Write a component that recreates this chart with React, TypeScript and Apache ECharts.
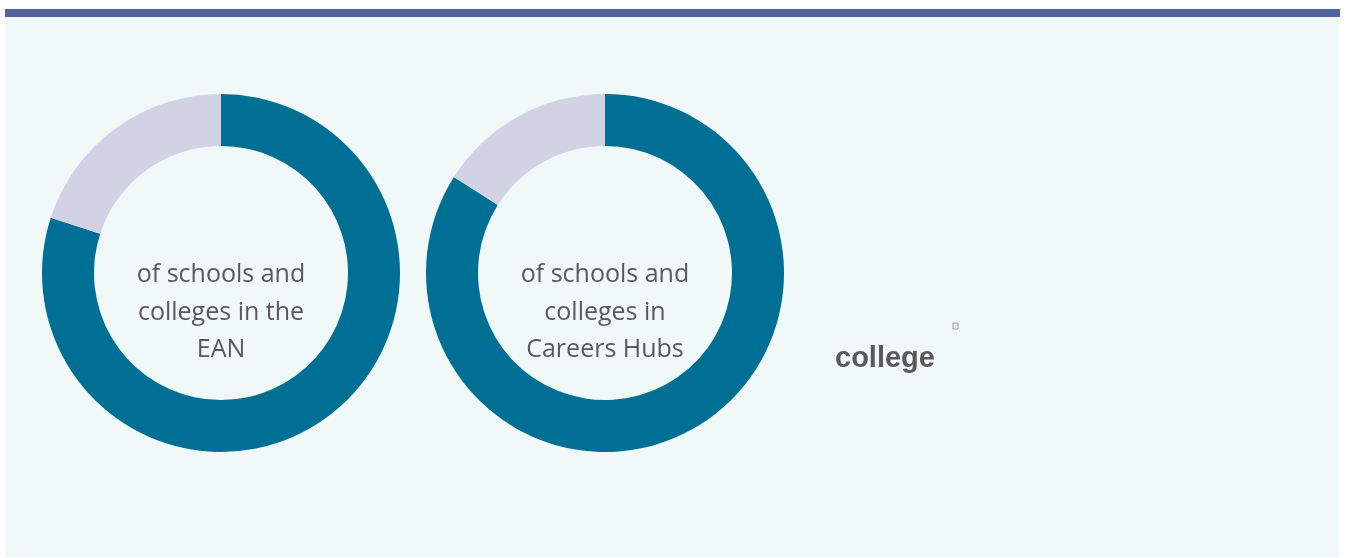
import React, { useEffect, useRef } from "react";
import * as echarts from "echarts";

const donutNames = ["EAN", "Careers Hubs"];
const coveredShare = [80, 84];
const remainingShare = [20, 16];
const centerLabels = [
  ["of schools and", "colleges in the", "EAN"],
  ["of schools and", "colleges in", "Careers Hubs"],
];
const sideWord = "college";

const DARK = "#006f94";
const LIGHT = "#d1d3e4";
const TEXT = "#595959";

export default function App() {
  const ref = useRef<HTMLDivElement>(null);
  useEffect(() => {
    if (!ref.current) return;
    const chart = echarts.init(ref.current, null, { renderer: "svg" });
    const centers = [
      [221, 273],
      [605, 273],
    ];
    const series: any[] = donutNames.map((name, i) => ({
      type: "pie",
      name,
      center: centers[i],
      radius: [127, 179],
      startAngle: 90,
      clockwise: true,
      silent: true,
      label: { show: false },
      labelLine: { show: false },
      data: [
        { value: coveredShare[i], name: "covered", itemStyle: { color: DARK } },
        { value: remainingShare[i], name: "remaining", itemStyle: { color: LIGHT } },
      ],
    }));
    const texts: any[] = [];
    centerLabels.forEach((lines, i) => {
      lines.forEach((line, j) => {
        texts.push({
          type: "text",
          x: centers[i][0],
          y: 272 + j * 37.5,
          z: 10,
          style: {
            text: line,
            fill: TEXT,
            font: '25px "Open Sans"',
            textAlign: "center",
            textVerticalAlign: "middle",
          },
        });
      });
    });
    chart.setOption({
      animation: false,
      graphic: [
        {
          type: "rect",
          z: -10,
          shape: { x: 5, y: 17, width: 1334, height: 540 },
          style: { fill: "#f1f9f8" },
        },
        {
          type: "rect",
          z: -10,
          shape: { x: 5, y: 9, width: 1335, height: 8 },
          style: { fill: "#51639a" },
        },
        ...texts,
        {
          type: "text",
          x: 835,
          y: 357,
          style: {
            text: sideWord,
            fill: TEXT,
            font: 'bold 29px "Liberation Sans"',
            textAlign: "left",
            textVerticalAlign: "middle",
          },
        },
        {
          type: "rect",
          shape: { x: 953, y: 323, width: 5, height: 6 },
          style: { fill: "#eeeeee", stroke: "#8a8a8a", lineWidth: 0.8 },
        },
      ],
      series,
    });
    return () => chart.dispose();
  }, []);
  return (
    <div
      ref={ref}
      style={{ position: "fixed", left: 0, top: 0, width: 1346, height: 558 }}
    />
  );
}
